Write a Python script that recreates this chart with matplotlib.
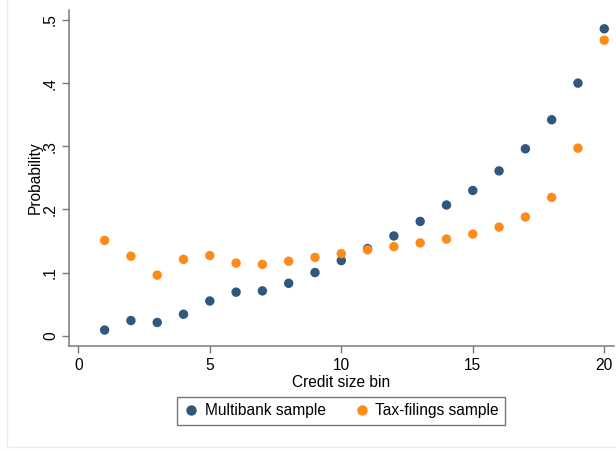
import matplotlib.pyplot as plt
from matplotlib.lines import Line2D

# Probability by credit size bin, two samples
bins = list(range(1, 21))
multibank = [0.009, 0.024, 0.021, 0.034, 0.055, 0.069, 0.071, 0.083, 0.100, 0.119,
             0.138, 0.158, 0.181, 0.207, 0.230, 0.261, 0.296, 0.342, 0.400, 0.486]
taxfilings = [0.151, 0.126, 0.096, 0.121, 0.127, 0.115, 0.113, 0.118, 0.124, 0.130,
              0.136, 0.141, 0.147, 0.153, 0.161, 0.172, 0.188, 0.219, 0.297, 0.468]

x_ticks = [0, 5, 10, 15, 20]
y_ticks = [0, 0.1, 0.2, 0.3, 0.4, 0.5]
y_labels = ["0", ".1", ".2", ".3", ".4", ".5"]

navy = "#30577e"
orange = "#fd8b1a"
axis_gray = "#7a7a7a"

plt.rcParams["font.family"] = ["Liberation Sans", "DejaVu Sans"]
plt.rcParams["font.size"] = 11

fig = plt.figure(figsize=(6.16, 4.51), dpi=100)
fig.patch.set_facecolor("white")

# faint graph-region outline on the left and bottom
fig.add_artist(Line2D([7 / 616, 7 / 616], [1, 1 - 447 / 451],
                      transform=fig.transFigure, color="#ececec", lw=1))
fig.add_artist(Line2D([7 / 616, 1], [1 - 447 / 451, 1 - 447 / 451],
                      transform=fig.transFigure, color="#ececec", lw=1))

ax = fig.add_axes([69 / 616, 1 - 345.7 / 451, (614 - 69) / 616, (345.7 - 10) / 451])

ax.scatter(bins, multibank, s=46, color=navy, edgecolors="none", label="Multibank sample", zorder=3)
ax.scatter(bins, taxfilings, s=46, color=orange, edgecolors="none", label="Tax-filings sample", zorder=3)

ax.set_xlim(-0.354, 20.37)
ax.set_ylim(-0.0158, 0.5158)
ax.set_xticks(x_ticks)
ax.set_yticks(y_ticks)
ax.set_yticklabels(y_labels, rotation=90, va="center")

for side in ["top", "right"]:
    ax.spines[side].set_visible(False)
for side in ["left", "bottom"]:
    ax.spines[side].set_color(axis_gray)
    ax.spines[side].set_linewidth(1.1)

ax.tick_params(axis="both", direction="out", length=5, width=1, color=axis_gray,
               labelsize=11.2, pad=4)
ax.tick_params(axis="y", pad=3)

ax.set_xlabel("Credit size bin", fontsize=11.2, labelpad=1)
ax.set_ylabel("Probability", fontsize=11.2, labelpad=0)

leg = fig.legend(handles=[
    Line2D([], [], marker="o", ls="", color=navy, markersize=6.5, label="Multibank sample"),
    Line2D([], [], marker="o", ls="", color=orange, markersize=6.5, label="Tax-filings sample"),
], loc="center", bbox_to_anchor=(341 / 616, 1 - 411 / 451), ncol=2,
    frameon=True, fancybox=False, fontsize=11.2, handletextpad=0.3,
    columnspacing=1.8, borderpad=0.4, handlelength=1.1)
leg.get_frame().set_edgecolor("#555555")
leg.get_frame().set_linewidth(1)

fig.savefig("out.png", dpi=100, facecolor="white")
